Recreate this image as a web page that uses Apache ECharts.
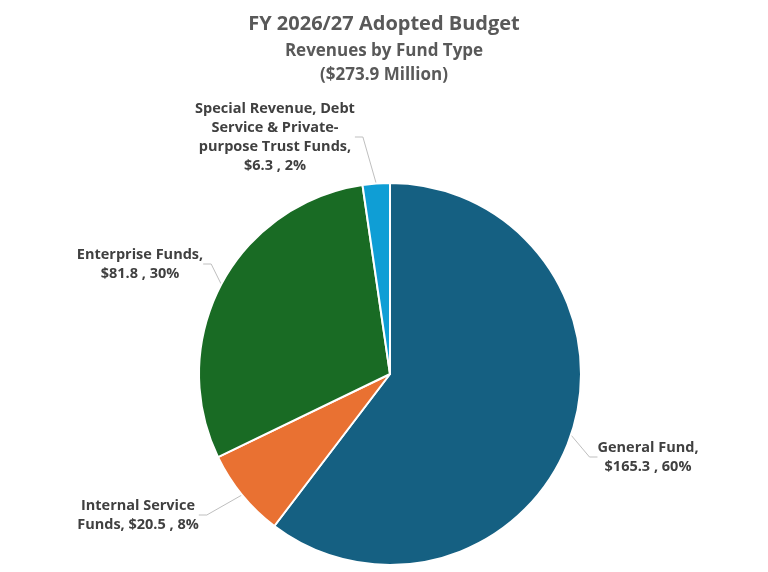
<!DOCTYPE html>
<html>
<head>
<meta charset="utf-8">
<script src="https://cdn.jsdelivr.net/npm/echarts@6/dist/echarts.min.js"></script>
<style>
  html, body { margin: 0; padding: 0; background: #fff; }
  #container { width: 768px; height: 572px; }
</style>
</head>
<body>
<div id="container"></div>
<script>
// fund types, clockwise from 12 o'clock
var funds = ['General Fund', 'Internal Service Funds', 'Enterprise Funds',
             'Special Revenue, Debt Service & Private-purpose Trust Funds'];
var amounts = [165.3, 20.5, 81.8, 6.3];          // $ million
var pctText = ['60%', '8%', '30%', '2%'];        // as printed on the chart
var labelText = [
    'General Fund,\n$165.3 , 60%',
    'Internal Service\nFunds, $20.5 , 8%',
    'Enterprise Funds,\n$81.8 , 30%',
    'Special Revenue, Debt\nService & Private-\npurpose Trust Funds,\n$6.3 , 2%'
];
var colors = ['#156082', '#E97132', '#196B24', '#0F9ED5'];

// where each label sits (text centre)
var labelPos = [[648, 457], [138, 515], [140, 264], [275, 137]];

var dom = document.getElementById('container');
var myChart = echarts.init(dom);

var pieData = funds.map(function (n, i) {
    return { name: n, value: amounts[i], itemStyle: { color: colors[i] } };
});

var option = {
    backgroundColor: '#ffffff',
    title: [
        {
            text: 'FY 2026/27 Adopted Budget',
            left: 'center',
            top: 9,
            textStyle: { fontFamily: 'Open Sans', fontWeight: 'bold', fontSize: 20, color: '#595959' }
        },
        {
            text: 'Revenues by Fund Type\n($273.9 Million)',
            left: 'center',
            top: 34,
            textStyle: { fontFamily: 'Open Sans', fontWeight: 'bold', fontSize: 17, lineHeight: 24, color: '#595959' }
        }
    ],
    series: [
        {
            type: 'pie',
            center: [390, 374],
            radius: 191,
            startAngle: 90,
            clockwise: true,
            animation: false,
            itemStyle: { borderColor: '#ffffff', borderWidth: 2 },
            label: {
                show: true,
                position: 'outside',
                formatter: function (p) { return labelText[p.dataIndex]; },
                fontFamily: 'Open Sans',
                fontWeight: 'bold',
                fontSize: 14.5,
                lineHeight: 19,
                color: '#404040',
                align: 'center'
            },
            labelLine: {
                show: true,
                length: 10,
                length2: 8,
                lineStyle: { color: '#bfbfbf', width: 1 }
            },
            labelLayout: function (params) {
                var p = labelPos[params.dataIndex];
                return {
                    x: p[0],
                    y: p[1],
                    align: 'center',
                    verticalAlign: 'middle'
                };
            },
            data: pieData
        }
    ]
};

myChart.setOption(option);
window.onresize = function () {
    myChart.resize();
};
</script>
</body>
</html>
